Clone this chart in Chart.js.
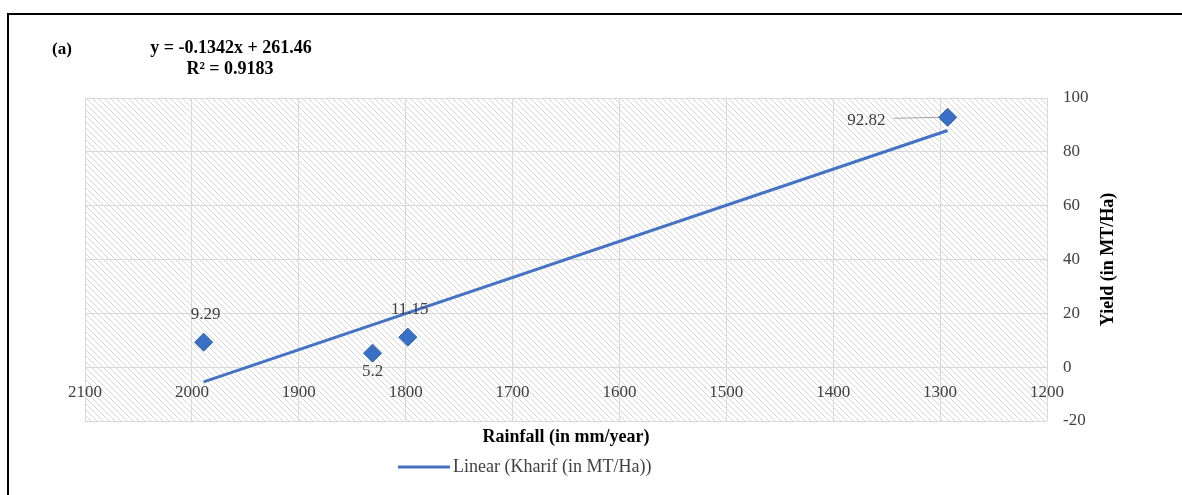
<!DOCTYPE html>
<html lang="en">
<head>
<meta charset="UTF-8">
<title>Kharif yield vs rainfall</title>
<script src="https://cdn.jsdelivr.net/npm/chart.js"></script>
<style>
  * { margin: 0; padding: 0; box-sizing: border-box; }
  body { background: #fff; width: 1182px; height: 495px; overflow: hidden; position: relative; }
  .frame { position: absolute; left: 7px; top: 13px; width: 1200px; height: 500px; border-left: 2px solid #000; border-top: 2px solid #000; }
  canvas { position: absolute; left: 0; top: 0; }
</style>
</head>
<body>
<div class="frame"></div>
<canvas id="chart" width="1182" height="495"></canvas>
<script>
// Data
const rainfall = [1989, 1831, 1798, 1293];          // mm/year
const kharifYield = [9.29, 5.2, 11.15, 92.82];      // MT/Ha
const labelSide = ['above', 'below', 'above', 'left'];
const trendSlope = -0.1342;
const trendIntercept = 261.46;
const equationText = 'y = -0.1342x + 261.46';
const r2Text = 'R\u00b2 = 0.9183';
const panelLabel = '(a)';
const xTitle = 'Rainfall (in mm/year)';
const yTitle = 'Yield (in MT/Ha)';
const legendText = 'Linear (Kharif (in MT/Ha))';

const serif = "'Liberation Serif', 'Times New Roman', serif";
const blue = '#4472C4';

const points = rainfall.map((x, i) => ({ x: x, y: kharifYield[i] }));
const xMin = Math.min(...rainfall), xMax = Math.max(...rainfall);
const trend = [xMax, xMin].map(x => ({ x: x, y: trendSlope * x + trendIntercept }));

// hatched plot background
const hatchPlugin = {
  id: 'hatch',
  beforeDraw(chart) {
    const { ctx, chartArea: a } = chart;
    const tile = document.createElement('canvas');
    tile.width = 6; tile.height = 6;
    const t = tile.getContext('2d');
    t.strokeStyle = '#d8d8d8';
    t.lineWidth = 1;
    t.beginPath();
    t.moveTo(-1, -1); t.lineTo(7, 7);
    t.moveTo(-1, 5); t.lineTo(1, 7);
    t.moveTo(5, -1); t.lineTo(7, 1);
    t.stroke();
    ctx.save();
    ctx.fillStyle = ctx.createPattern(tile, 'repeat');
    ctx.fillRect(a.left, a.top, a.right - a.left, a.bottom - a.top);
    ctx.restore();
  }
};

// texts, data labels and legend
const textPlugin = {
  id: 'texts',
  afterDraw(chart) {
    const { ctx, chartArea: a } = chart;
    const xs = chart.scales.x, ys = chart.scales.y;
    ctx.save();
    ctx.fillStyle = '#000';
    ctx.textBaseline = 'middle';

    ctx.font = 'bold 17px ' + serif;
    ctx.textAlign = 'left';
    ctx.fillText(panelLabel, 52, 50);
    ctx.font = 'bold 18px ' + serif;
    ctx.textAlign = 'center';
    ctx.fillText(equationText, 231, 48);
    ctx.fillText(r2Text, 230, 69);

    ctx.fillText(xTitle, 566, 437);

    ctx.save();
    ctx.translate(1108, (a.top + a.bottom) / 2);
    ctx.rotate(-Math.PI / 2);
    ctx.fillText(yTitle, 0, 0);
    ctx.restore();

    // point labels
    ctx.font = '17px ' + serif;
    ctx.fillStyle = '#404040';
    points.forEach((p, i) => {
      const px = xs.getPixelForValue(p.x), py = ys.getPixelForValue(p.y);
      const txt = String(kharifYield[i]);
      if (labelSide[i] === 'above') {
        ctx.textAlign = 'center';
        ctx.fillText(txt, px + 2, py - 28);
      } else if (labelSide[i] === 'below') {
        ctx.textAlign = 'center';
        ctx.fillText(txt, px, py + 18);
      } else {
        ctx.textAlign = 'right';
        ctx.fillText(txt, px - 62, py + 3);
        ctx.strokeStyle = '#8c8c8c';
        ctx.lineWidth = 0.8;
        ctx.beginPath();
        ctx.moveTo(px - 54, py + 1);
        ctx.lineTo(px - 8, py);
        ctx.stroke();
      }
    });

    // legend
    ctx.strokeStyle = blue;
    ctx.lineWidth = 3;
    ctx.beginPath();
    ctx.moveTo(398, 467);
    ctx.lineTo(450, 467);
    ctx.stroke();
    ctx.font = '18px ' + serif;
    ctx.fillStyle = '#404040';
    ctx.textAlign = 'left';
    ctx.fillText(legendText, 453, 467);
    ctx.restore();
  }
};

new Chart(document.getElementById('chart'), {
  type: 'scatter',
  data: {
    datasets: [
      {
        label: legendText,
        type: 'line',
        data: trend,
        borderColor: blue,
        borderWidth: 3,
        pointRadius: 0,
        fill: false,
        order: 2
      },
      {
        label: 'Kharif (in MT/Ha)',
        data: points,
        pointStyle: 'rectRot',
        pointRadius: 9,
        pointHoverRadius: 9,
        backgroundColor: '#3a6fc6',
        borderColor: '#2e5ea8',
        borderWidth: 1,
        order: 1
      }
    ]
  },
  options: {
    responsive: false,
    animation: false,
    layout: { padding: { left: 85, top: 98, right: 0, bottom: 74 } },
    plugins: { legend: { display: false }, tooltip: { enabled: false } },
    scales: {
      x: {
        type: 'linear',
        reverse: true,
        min: 1200,
        max: 2100,
        position: { y: 0 },
        grid: { color: '#d9d9d9', drawTicks: false },
        border: { display: false },
        ticks: {
          stepSize: 100, padding: 15, color: '#404040', maxRotation: 0,
          font: { family: serif, size: 17 },
          callback: v => String(v)
        }
      },
      y: {
        position: 'right',
        min: -20,
        max: 100,
        grid: { color: '#d9d9d9', drawTicks: false },
        border: { display: false },
        ticks: { stepSize: 20, padding: 16, color: '#404040', font: { family: serif, size: 17 } },
        afterFit(scale) { scale.width = 135; }
      }
    }
  },
  plugins: [hatchPlugin, textPlugin]
});
</script>
</body>
</html>
